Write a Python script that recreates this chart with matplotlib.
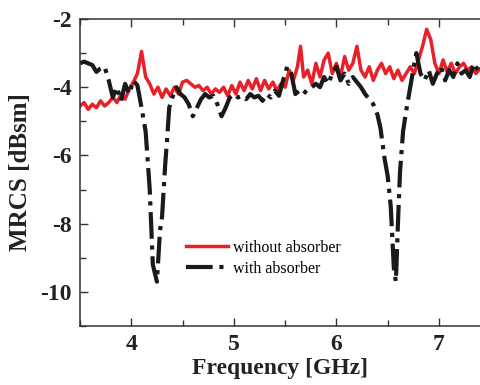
import numpy as np
import matplotlib
matplotlib.use('Agg')
import matplotlib.pyplot as plt
from matplotlib.ticker import MultipleLocator

plt.rcParams['font.family'] = ['Liberation Serif', 'DejaVu Serif']
plt.rcParams['axes.unicode_minus'] = False

# without absorber (red)
f_red = [3.50, 3.54, 3.58, 3.62, 3.66, 3.70, 3.74, 3.78, 3.82, 3.86, 3.90, 3.94, 3.98,
         4.02, 4.06, 4.10, 4.14, 4.18, 4.22, 4.26, 4.30, 4.34, 4.38, 4.42, 4.46, 4.50,
         4.54, 4.58, 4.62, 4.66, 4.70, 4.74, 4.78, 4.82, 4.86, 4.90, 4.94, 4.98, 5.02,
         5.06, 5.10, 5.14, 5.18, 5.22, 5.26, 5.30, 5.34, 5.38, 5.42, 5.46, 5.50, 5.54,
         5.58, 5.62, 5.65, 5.68, 5.72, 5.76, 5.80, 5.84, 5.88, 5.92, 5.96, 6.00, 6.04,
         6.08, 6.12, 6.16, 6.20, 6.24, 6.28, 6.32, 6.36, 6.40, 6.44, 6.48, 6.52, 6.56,
         6.60, 6.64, 6.68, 6.72, 6.76, 6.80, 6.84, 6.88, 6.92, 6.96, 7.00, 7.04, 7.08,
         7.12, 7.16, 7.20, 7.24, 7.28, 7.32, 7.36, 7.40, 7.44]
mrcs_red = [-4.55, -4.45, -4.65, -4.5, -4.6, -4.4, -4.55, -4.45, -4.3, -4.45, -4.2, -4.35, -4.05,
            -3.85, -3.6, -2.95, -3.7, -3.9, -4.2, -4.0, -4.3, -4.05, -4.25, -4.0, -4.2, -3.85,
            -3.8, -3.9, -4.0, -3.95, -4.1, -4.0, -4.2, -4.05, -4.15, -4.0, -4.25, -3.95, -4.2,
            -3.85, -4.1, -3.8, -4.05, -3.75, -4.1, -3.8, -4.05, -3.85, -4.1, -3.9, -4.0, -3.5,
            -3.8, -3.4, -2.8, -3.7, -3.5, -3.9, -3.3, -3.7, -3.2, -3.0, -3.6, -3.3, -3.7,
            -3.1, -3.5, -3.3, -2.8, -3.5, -3.7, -3.4, -3.8, -3.5, -3.3, -3.6, -3.4, -3.75,
            -3.5, -3.8, -3.6, -3.4, -3.6, -3.2, -2.8, -2.3, -2.6, -3.3, -3.6, -3.2, -3.55,
            -3.3, -3.6, -3.4, -3.3, -3.5, -3.4, -3.6, -3.45, -3.5]

# with absorber (black dash-dot)
f_blk = [3.50, 3.54, 3.58, 3.62, 3.66, 3.70, 3.74, 3.78, 3.82, 3.86, 3.90, 3.94, 3.98,
         4.02, 4.06, 4.10, 4.14, 4.18, 4.21, 4.25, 4.28, 4.30, 4.33, 4.35, 4.37, 4.40,
         4.44, 4.48, 4.52, 4.56, 4.60, 4.64, 4.68, 4.72, 4.76, 4.80, 4.84, 4.88, 4.92,
         4.96, 5.00, 5.04, 5.08, 5.12, 5.16, 5.20, 5.24, 5.28, 5.32, 5.36, 5.40, 5.44,
         5.48, 5.52, 5.56, 5.60, 5.64, 5.68, 5.72, 5.76, 5.80, 5.84, 5.88, 5.92, 5.96,
         6.00, 6.04, 6.08, 6.12, 6.16, 6.20, 6.24, 6.28, 6.32, 6.36, 6.40, 6.43, 6.47,
         6.50, 6.53, 6.56, 6.58, 6.60, 6.62, 6.65, 6.68, 6.72, 6.76, 6.78, 6.82, 6.86,
         6.90, 6.94, 6.98, 7.02, 7.06, 7.10, 7.14, 7.18, 7.22, 7.26, 7.30, 7.34, 7.38, 7.42]
mrcs_blk = [-3.3, -3.25, -3.3, -3.35, -3.55, -3.45, -3.4, -3.8, -4.3, -4.0, -4.4, -3.9, -4.2,
            -3.8, -3.95, -4.6, -5.3, -7.0, -9.2, -9.7, -8.2, -7.8, -6.3, -5.5, -4.6, -4.3,
            -4.0, -4.2, -4.3, -4.5, -4.85, -4.6, -4.35, -4.2, -4.3, -4.25, -4.5, -4.85, -4.6,
            -4.3, -4.2, -4.3, -4.25, -4.35, -4.2, -4.3, -4.25, -4.4, -4.2, -4.3, -4.1, -4.25,
            -3.8, -3.4, -3.6, -4.2, -4.1, -4.2, -4.05, -4.0, -3.9, -4.0, -3.7, -3.9, -3.6,
            -3.4, -3.8, -3.6, -3.9, -3.7, -3.85, -4.0, -4.2, -4.35, -4.5, -4.8, -5.2, -6.1,
            -6.6, -7.5, -9.3, -9.7, -8.0, -6.5, -5.3, -4.7, -4.0, -3.3, -3.0, -3.6, -3.8,
            -3.5, -3.9, -3.6, -3.4, -3.8, -3.5, -3.7, -3.3, -3.6, -3.5, -3.7, -3.3, -3.5, -3.4]

fig = plt.figure(figsize=(4.81, 3.85), dpi=100)
ax = fig.add_axes([80/481, 59/385, 1 - 80/481, 307/385])

ax.plot(f_red, mrcs_red, color='#e8202a', lw=2.5, label='without absorber')
ax.plot(f_blk, mrcs_blk, color='#1a1a1a', lw=3, ls='-.', label='with absorber')

ax.set_xlim(3.5, 7.41)
ax.set_ylim(-11, -2)
ax.xaxis.set_major_locator(MultipleLocator(1))
ax.xaxis.set_minor_locator(MultipleLocator(0.5))
ax.yaxis.set_major_locator(MultipleLocator(2))
ax.yaxis.set_minor_locator(MultipleLocator(1))
ax.tick_params(which='both', direction='in', top=True, right=False, width=1, colors='#333333',
               labelcolor='#222222')
ax.tick_params(which='major', length=6, labelsize=17, pad=6)
ax.tick_params(which='minor', length=4)
for lab in ax.get_xticklabels() + ax.get_yticklabels():
    lab.set_fontweight('bold')
ax.spines['right'].set_visible(False)
for s in ['left', 'top', 'bottom']:
    ax.spines[s].set_color('#333333')
    ax.spines[s].set_linewidth(1.1)

ax.set_xlabel('Frequency [GHz]', fontsize=17, fontweight='bold', labelpad=2, color='#222222')
ax.set_ylabel('MRCS [dBsm]', fontsize=18, fontweight='bold', labelpad=6, color='#222222')

ax.legend(loc='upper left', bbox_to_anchor=(0.265, 0.28), frameon=False, fontsize=11.5,
          handlelength=2.6, handletextpad=0.3, borderpad=0, borderaxespad=0, labelspacing=0.3)

fig.savefig('out.png', dpi=100)
